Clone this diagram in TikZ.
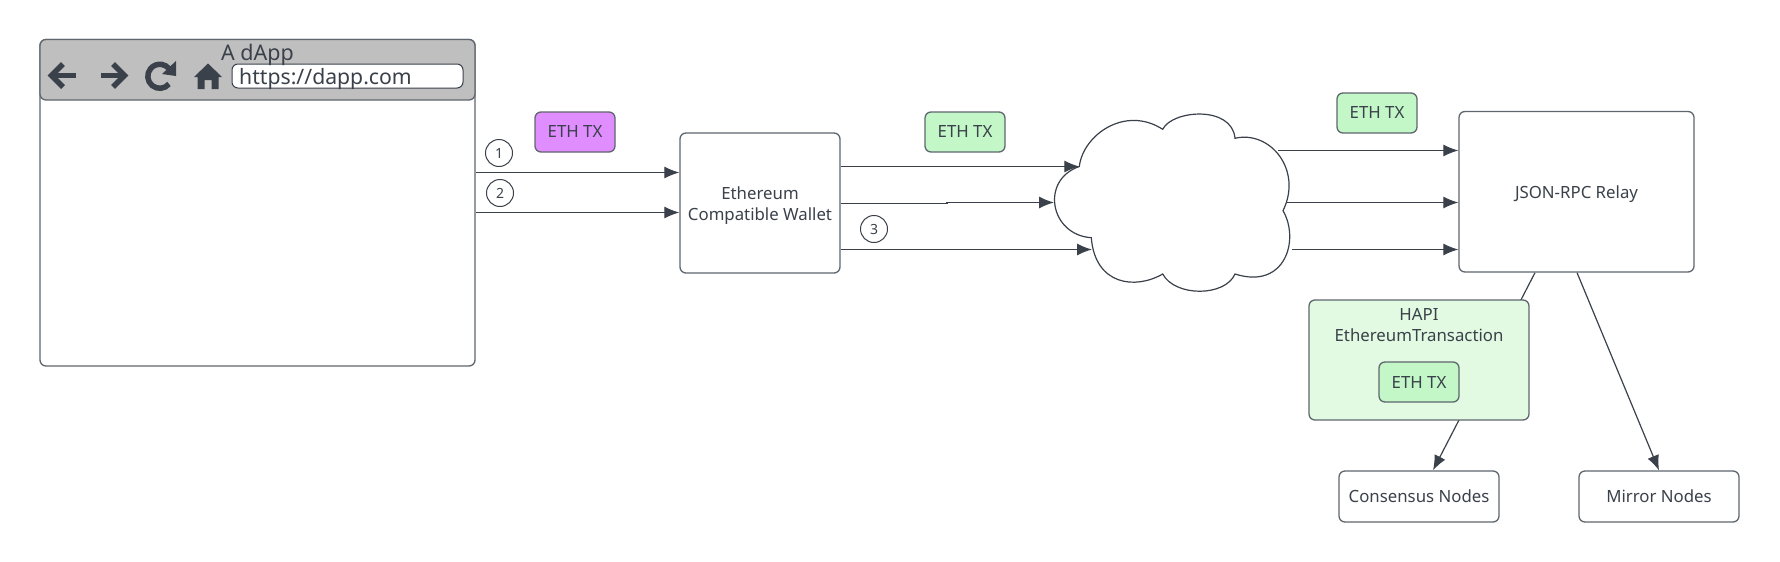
\documentclass[tikz,border=0pt]{standalone}
\usepackage{fontspec}
\setmainfont{Noto Sans}
\usetikzlibrary{arrows.meta,backgrounds}
\definecolor{ink}{HTML}{3A414A}
\definecolor{edge}{HTML}{5F666E}
\definecolor{gtx}{HTML}{C3F7C8}
\definecolor{ptx}{HTML}{E08EFF}
\definecolor{hapi}{HTML}{E2FAE2}
\definecolor{head}{HTML}{BFBFBF}
\tikzset{
  box/.style={draw=edge,line width=1.3pt,rounded corners=6pt,fill=white,inner sep=0pt,text=ink,align=center,font=\fontsize{16.8}{20.5}\selectfont},
  txgreen/.style={box,fill=gtx,minimum width=80pt,minimum height=40pt},
  txpurple/.style={box,fill=ptx,minimum width=80pt,minimum height=40pt},
  leaf/.style={box,minimum width=160pt,minimum height=51pt},
  num/.style={circle,draw=ink,line width=1pt,minimum size=27pt,inner sep=0pt,text=ink,font=\fontsize{14}{16}\selectfont},
  conn/.style={draw=ink,line width=1.2pt,-{Latex[length=15pt,width=12pt]}},
  icon/.style={draw=ink,line width=5.5pt}
}
\begin{document}
\begin{tikzpicture}[x=1pt,y=-1pt]
\useasboundingbox (0,0) rectangle (1780,562);
% browser
\node[box,minimum width=435pt,minimum height=326.5pt] (browser) at (257.5,202.75) {};
\node[box,fill=head,minimum width=435pt,minimum height=60.5pt] (bar) at (257.5,69.75) {};
\node[box,draw=ink,line width=1pt,minimum width=231pt,minimum height=24pt] (url) at (347.5,76) {};
\node[anchor=base,inner sep=0pt,text=ink,font=\fontsize{21.5}{24}\selectfont] (title) at (257.5,60) {A dApp};
\node[anchor=base west,inner sep=0pt,text=ink,font=\fontsize{21.2}{24}\selectfont] (urltext) at (239,84) {https://dapp.com};
% icons
\draw[icon] (51,75.5) -- (76,75.5);
\draw[icon,line join=miter] (63,64) -- (51.5,75.5) -- (63,87);
\draw[icon] (101,75.5) -- (125,75.5);
\draw[icon,line join=miter] (113,64) -- (124.5,75.5) -- (113,87);
\draw[icon] (169,84) arc[start angle=40,end angle=320,radius=12] ;
\fill[ink] (162,74) -- (176,61) -- (176,76) -- cycle;
\fill[ink] (208,63.5) -- (222,77) -- (218.5,77) -- (218.5,89) -- (211.5,89) -- (211.5,80) -- (204.5,80) -- (204.5,89) -- (197.5,89) -- (197.5,77) -- (194,77) -- cycle;
% boxes
\node[box,minimum width=160pt,minimum height=140pt] (wallet) at (760,203) {\raisebox{-17pt}[0pt][0pt]{\shortstack{Ethereum\\[4.5pt]Compatible Wallet}}};
\node[box,minimum width=235pt,minimum height=160.5pt] (relay) at (1576.5,191.75) {\raisebox{-7pt}[0pt][0pt]{JSON-RPC Relay}};
\node[txpurple] (tx1) at (575,132) {ETH TX};
\node[txgreen] (tx2) at (965,132) {ETH TX};
\node[txgreen] (tx3) at (1377,113) {ETH TX};
\node[box,fill=hapi,minimum width=220pt,minimum height=120pt] (hapibox) at (1419,360) {};
\node[anchor=center,inner sep=0pt,text=ink,align=center,font=\fontsize{16.8}{21}\selectfont] (hapilabel) at (1419,325.5) {HAPI\\EthereumTransaction};
\node[txgreen] (tx4) at (1419,382) {ETH TX};
\node[leaf] (cons) at (1419,496.5) {Consensus Nodes};
\node[leaf] (mirror) at (1659,496.5) {Mirror Nodes};
\node[num] (n1) at (499,153) {1};
\node[num] (n2) at (500,193) {2};
\node[num] (n3) at (874,229) {3};
% cloud
\coordinate (cA) at (1079.3,166.5);
\coordinate (cB) at (1162.7,129.3);
\coordinate (cC) at (1235,138.3);
\coordinate (cD) at (1283,210.7);
\coordinate (cE) at (1235,274);
\coordinate (cF) at (1162.7,274);
\coordinate (cG) at (1091.3,237.7);
\coordinate (cR1) at (1278,150.5);
\coordinate (cR2) at (1287,202.5);
\coordinate (cR3) at (1292,249.5);
\coordinate (cL2) at (1054,202.5);
\coordinate (cL3) at (1092,249.5);
\draw[draw=ink,line width=1.2pt,fill=white] (cA)
  .. controls (1083,135) and (1125,105) .. (cB)
  .. controls (1172,110) and (1232,105) .. (cC)
  .. controls (1270,130) and (1303,170) .. (cD)
  .. controls (1300,240) and (1285,290) .. (cE)
  .. controls (1225,297) and (1175,297) .. (cF)
  .. controls (1135,290) and (1095,285) .. (cG)
  .. controls (1050,235) and (1040,180) .. (cA) -- cycle;
% connectors
\begin{scope}[on background layer]
\draw[conn] (browser.east |- 0,172.5) -- (wallet.west |- 0,172.5);
\draw[conn] (browser.east |- 0,212.5) -- (wallet.west |- 0,212.5);
\draw[conn] (wallet.east |- cA) -- (cA);
\draw[conn] (wallet.east |- 0,203.5) -- (947,203.5) -- (947,202.5) -- (cL2);
\draw[conn] (wallet.east |- cL3) -- (cL3);
\draw[conn] (cR1) -- (relay.west |- cR1);
\draw[conn] (cR2) -- (relay.west |- cR2);
\draw[conn] (cR3) -- (relay.west |- cR3);
\draw[conn] (relay.south -| 1535,0) -- (cons.north -| 1433,0);
\draw[conn] (relay.south -| 1577,0) -- (mirror.north);
\end{scope}
\end{tikzpicture}
\end{document}
